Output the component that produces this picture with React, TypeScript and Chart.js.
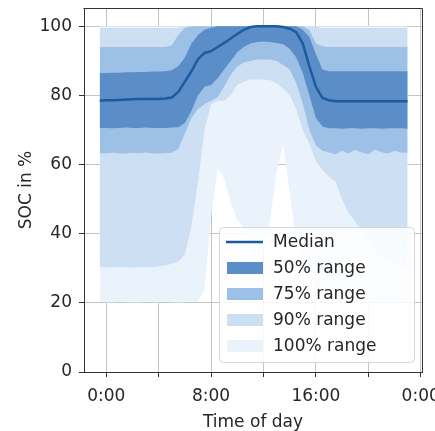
import React, { useEffect, useRef } from 'react';
import { Chart, registerables } from 'chart.js';

Chart.register(...registerables);

// Time of day in hours
const hours = [
  -0.5, 0, 0.5, 1, 1.5, 2, 2.5, 3, 3.5, 4, 4.5, 5, 5.5, 6, 6.5, 7, 7.5, 8, 8.5, 9, 9.5, 10, 10.5, 11,
  11.5, 12, 12.5, 13, 13.5, 14, 14.5, 15, 15.5, 16, 16.5, 17, 17.5, 18, 18.5, 19, 19.5, 20, 20.5, 21,
  21.5, 22, 22.5, 23,
];

const median = [
  78.5, 78.6, 78.6, 78.7, 78.8, 78.9, 79, 79, 79, 79, 79.1, 79.4, 81, 84, 87, 90.5, 92.3, 92.8, 94, 95.2,
  96.5, 97.8, 99, 99.8, 100, 100, 100, 100, 99.8, 99.3, 98.3, 95, 88.5, 82.5, 79.3, 78.6, 78.3, 78.3,
  78.3, 78.3, 78.3, 78.3, 78.3, 78.3, 78.3, 78.3, 78.3, 78.3,
];

const p50Upper = [
  86.5, 86.5, 86.6, 86.6, 86.7, 86.7, 86.8, 86.8, 86.9, 86.9, 87, 87.3, 88.5, 91, 95, 97.5, 99, 99.6,
  100, 100, 100, 100, 100, 100, 100, 100, 100, 100, 100, 100, 100, 99, 97, 92, 87.5, 87, 87, 87, 87, 87,
  87, 87, 87, 87, 87, 87, 87, 87,
];
const p50Lower = [
  70.6, 70.6, 70.5, 70.6, 70.7, 70.6, 70.6, 70.7, 70.6, 70.6, 70.6, 70.7, 70.8, 72, 75.5, 80, 82.5, 83,
  85, 87.5, 90, 92.5, 94, 95, 95.5, 95.6, 95.5, 95.2, 94.8, 93.5, 91, 86.5, 80, 73.5, 71, 70.5, 70.5,
  70.4, 70.5, 70.5, 70.4, 70.5, 70.5, 70.4, 70.5, 70.5, 70.5, 70.4,
];

const p75Upper = [
  94, 94, 94, 94, 94, 94, 94, 94, 94, 94, 94, 94.5, 97.5, 99.5, 100, 100, 100, 100, 100, 100, 100, 100,
  100, 100, 100, 100, 100, 100, 100, 100, 100, 100, 99, 95, 94.2, 94, 94, 94, 94, 94, 94, 94, 94, 94, 94,
  94, 94, 94,
];
const p75Lower = [
  63.3, 63.2, 63.4, 63.3, 63.2, 63.4, 63.3, 63.5, 63.3, 63.2, 63.3, 63.4, 64.5, 69, 73.5, 76, 77.5, 78.5,
  79.5, 82.5, 86, 88.4, 89.5, 90, 90.4, 90.4, 90.4, 90, 88.8, 87.5, 83.5, 77.5, 70, 65.5, 64, 63.5, 63,
  64, 63.2, 64.3, 63.5, 63, 64.4, 63.6, 63.2, 64, 63.4, 63.5,
];

const p90Upper = [
  99.5, 99.5, 99.5, 99.5, 99.5, 99.5, 99.5, 99.5, 99.5, 99.5, 99.5, 99.5, 99.5, 100, 100, 100, 100, 100,
  100, 100, 100, 100, 100, 100, 100, 100, 100, 100, 100, 100, 100, 100, 100, 100, 99.5, 99.5, 99.5, 99.5,
  99.5, 99.5, 99.5, 99.5, 99.5, 99.5, 99.5, 99.5, 99.5, 99.5,
];
const p90Lower = [
  30.5, 30.3, 30.2, 30.4, 30.3, 30.2, 30.3, 30.4, 30.3, 30.5, 30.8, 31.3, 32, 34, 42, 55, 70, 77.5, 78.5,
  78.5, 80, 83, 84, 84.6, 84.6, 84.6, 84.4, 83.5, 82, 80, 76, 70, 66, 61, 58.5, 56.5, 55, 50, 46, 43.5,
  41, 38, 35, 33, 32, 31, 30.5, 30.5,
];

const p100Upper = [
  100, 100, 100, 100, 100, 100, 100, 100, 100, 100, 100, 100, 100, 100, 100, 100, 100, 100, 100, 100,
  100, 100, 100, 100, 100, 100, 100, 100, 100, 100, 100, 100, 100, 100, 100, 100, 100, 100, 100, 100,
  100, 100, 100, 100, 100, 100, 100, 100,
];
const p100Lower = [
  20.3, 20.2, 20.1, 20.3, 20.2, 20.2, 20.1, 20.3, 20.2, 20.2, 20.3, 20.2, 20.1, 20.2, 20.3, 20.4, 24, 45,
  59, 56, 49, 44, 42, 36, 33, 35, 44, 58, 66, 52, 38, 32, 28, 25, 22, 20.5, 20.5, 20.4, 20.5, 20.6, 20.5,
  20.4, 20.5, 20.5, 20.6, 20.5, 20.4, 20.5,
];

const xTickValues = [0, 4, 8, 12, 16, 20, 24];
const xTickLabels = ['0:00', '', '8:00', '', '16:00', '', '0:00'];
const yTickValues = [0, 20, 40, 60, 80, 100];
const legendLabels = ['Median', '50% range', '75% range', '90% range', '100% range'];

const FONT = "'DejaVu Sans', sans-serif";
const TEXT = '#262626';
const C_MED = '#1e5aa0';
const C50 = '#5b8ec8';
const C75 = '#9dc1e6';
const C90 = '#cde0f3';
const C100 = '#eaf2fb';
const GRID = '#c4c4c4';
const AXIS = '#333333';

const pts = (arr: number[]) => hours.map((h, i) => ({ x: h, y: arr[i] }));

const band = (label: string, arr: number[], color: string, target: number | false) => ({
  label,
  data: pts(arr),
  borderColor: 'rgba(0,0,0,0)',
  borderWidth: 0,
  pointRadius: 0,
  backgroundColor: color,
  fill: target,
});

const legendColors = [C_MED, C50, C75, C90, C100];

const insideLegend = {
  id: 'insideLegend',
  afterDraw(chart: any) {
    const { ctx, chartArea } = chart;
    ctx.save();
    // top and right spines
    ctx.strokeStyle = AXIS;
    ctx.lineWidth = 1;
    ctx.beginPath();
    ctx.moveTo(Math.round(chartArea.left) - 0.5, Math.round(chartArea.top) + 0.5);
    ctx.lineTo(Math.round(chartArea.right) + 0.5, Math.round(chartArea.top) + 0.5);
    ctx.lineTo(Math.round(chartArea.right) + 0.5, Math.round(chartArea.bottom));
    ctx.stroke();

    const w = 195;
    const h = 135;
    const x = chartArea.right - 8 - w;
    const y = chartArea.bottom - 10 - h;
    ctx.beginPath();
    (ctx as any).roundRect(x + 0.5, y + 0.5, w, h, 4);
    ctx.fillStyle = 'rgba(255,255,255,0.85)';
    ctx.fill();
    ctx.strokeStyle = '#d6d6d6';
    ctx.lineWidth = 1;
    ctx.stroke();

    ctx.font = `17px ${FONT}`;
    ctx.textBaseline = 'middle';
    ctx.textAlign = 'left';
    legendLabels.forEach((lab, i) => {
      const cy = y + 15 + i * 26;
      if (i === 0) {
        ctx.strokeStyle = legendColors[0];
        ctx.lineWidth = 2.5;
        ctx.beginPath();
        ctx.moveTo(x + 7, cy);
        ctx.lineTo(x + 44, cy);
        ctx.stroke();
      } else {
        ctx.fillStyle = legendColors[i];
        ctx.fillRect(x + 8, cy - 6, 36, 12);
      }
      ctx.fillStyle = TEXT;
      ctx.fillText(lab, x + 54, cy + 1);
    });
    ctx.restore();
  },
};

export default function App() {
  const ref = useRef<HTMLCanvasElement | null>(null);

  useEffect(() => {
    if (!ref.current) return;
    const chart = new Chart(ref.current, {
      type: 'line',
      data: {
        datasets: [
          {
            label: 'Median',
            data: pts(median),
            borderColor: C_MED,
            borderWidth: 2.5,
            pointRadius: 0,
            fill: false,
          },
          band('50% upper', p50Upper, C50, 2),
          band('50% lower', p50Lower, C50, false),
          band('75% upper', p75Upper, C75, 4),
          band('75% lower', p75Lower, C75, false),
          band('90% upper', p90Upper, C90, 6),
          band('90% lower', p90Lower, C90, false),
          band('100% upper', p100Upper, C100, 8),
          band('100% lower', p100Lower, C100, false),
        ] as any,
      },
      options: {
        animation: false,
        responsive: false,
        devicePixelRatio: 1,
        layout: { padding: { top: 8, right: 13, bottom: 0, left: 0 } },
        plugins: { legend: { display: false }, tooltip: { enabled: false } },
        elements: { line: { tension: 0 } },
        scales: {
          x: {
            type: 'linear',
            min: -1.7,
            max: 24.1,
            z: 1,
            afterBuildTicks: (s: any) => {
              s.ticks = xTickValues.map((v) => ({ value: v }));
            },
            afterFit: (s: any) => {
              s.height = 59;
              s.paddingLeft = 0;
              s.paddingRight = 0;
            },
            ticks: {
              autoSkip: false,
              maxRotation: 0,
              padding: 9,
              color: TEXT,
              font: { family: FONT, size: 17 },
              callback: (v: any) => {
                const i = xTickValues.indexOf(Number(v));
                return i >= 0 ? xTickLabels[i] : '';
              },
            },
            grid: { color: GRID, lineWidth: 1, tickLength: 5, tickColor: AXIS, drawTicks: true },
            border: { display: true, color: AXIS, width: 1 },
            title: {
              display: true,
              text: 'Time of day',
              color: TEXT,
              font: { family: FONT, size: 17, lineHeight: 1.0 },
              padding: { top: 0, bottom: 0 },
            },
          },
          y: {
            type: 'linear',
            min: 0,
            max: 105.3,
            z: 1,
            afterBuildTicks: (s: any) => {
              s.ticks = yTickValues.map((v) => ({ value: v }));
            },
            afterFit: (s: any) => {
              s.width = 84;
              s.paddingTop = 0;
              s.paddingBottom = 0;
            },
            ticks: {
              padding: 7,
              color: TEXT,
              font: { family: FONT, size: 17 },
              callback: (v: any) => String(v),
            },
            grid: { color: GRID, lineWidth: 1, tickLength: 5, tickColor: AXIS, drawTicks: true },
            border: { display: true, color: AXIS, width: 1 },
            title: {
              display: true,
              text: 'SOC in %',
              color: TEXT,
              font: { family: FONT, size: 17 },
              padding: { top: 16, bottom: 0 },
            },
          },
        },
      } as any,
      plugins: [insideLegend],
    });
    return () => chart.destroy();
  }, []);

  return (
    <canvas
      ref={ref}
      width={435}
      height={431}
      style={{ display: 'block', position: 'fixed', left: 0, top: 0, width: 435, height: 431 }}
    />
  );
}
